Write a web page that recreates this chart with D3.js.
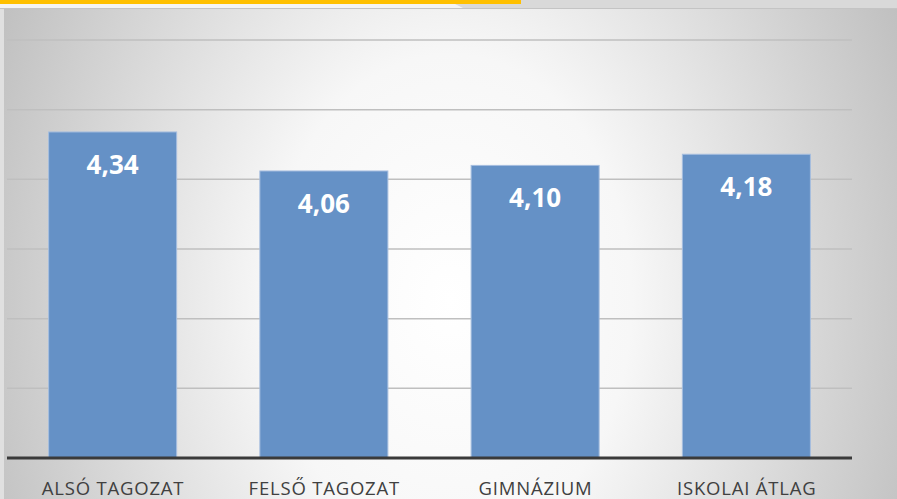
<!DOCTYPE html>
<html>
<head>
<meta charset="utf-8">
<script src="https://cdn.jsdelivr.net/npm/d3@7"></script>
<style>
  html, body { margin: 0; padding: 0; background: #ffffff; }
  #chart { width: 897px; height: 499px; }
</style>
</head>
<body>
<div id="chart"></div>
<script>
// Category labels and averages
const CATEGORIES = ['ALSÓ TAGOZAT', 'FELSŐ TAGOZAT', 'GIMNÁZIUM', 'ISKOLAI ÁTLAG'];
const VALUES = [4.34, 4.06, 4.10, 4.18];
const GRID_TICKS = [2.5, 3, 3.5, 4, 4.5, 5];
const Y_DOMAIN = [2, 5];

const WIDTH = 897;
const HEIGHT = 499;
const PLOT = { left: 7, right: 852, top: 40, bottom: 458 };

const fmt = v => v.toFixed(2).replace('.', ',');

const svg = d3.select('#chart')
  .append('svg')
  .attr('width', WIDTH)
  .attr('height', HEIGHT);

// Background: light radial gradient, grey towards the sides
const defs = svg.append('defs');
const grad = defs.append('radialGradient')
  .attr('id', 'bg')
  .attr('gradientUnits', 'userSpaceOnUse')
  .attr('cx', 450).attr('cy', 300).attr('r', 520)
  .attr('gradientTransform', 'translate(450,300) scale(1,1.35) translate(-450,-300)');
grad.append('stop').attr('offset', 0).attr('stop-color', '#ffffff');
grad.append('stop').attr('offset', 0.35).attr('stop-color', '#f7f7f7');
grad.append('stop').attr('offset', 1).attr('stop-color', '#bcbcbc');

svg.append('rect')
  .attr('x', 0).attr('y', 8)
  .attr('width', WIDTH).attr('height', HEIGHT - 8)
  .attr('fill', 'url(#bg)');

// Slide header strip
svg.append('rect')
  .attr('x', 0).attr('y', 0)
  .attr('width', WIDTH).attr('height', 8)
  .attr('fill', '#d9d9d9');
svg.append('line')
  .attr('x1', 0).attr('x2', WIDTH)
  .attr('y1', 8.5).attr('y2', 8.5)
  .attr('stroke', '#c4c4c4');
svg.append('path')
  .attr('d', 'M0,4 L455,4 L463,8 L0,8 Z')
  .attr('fill', '#f4f4f4');
svg.append('rect')
  .attr('x', 0).attr('y', 0)
  .attr('width', 521).attr('height', 4)
  .attr('fill', '#ffc000');
svg.append('rect')
  .attr('x', 0).attr('y', 9)
  .attr('width', 4).attr('height', HEIGHT - 9)
  .attr('fill', '#e0e0e0');

// Scales
const x = d3.scaleBand()
  .domain(CATEGORIES)
  .range([PLOT.left, PLOT.right])
  .paddingInner(0.394)
  .paddingOuter(0.197);

const y = d3.scaleLinear()
  .domain(Y_DOMAIN)
  .range([PLOT.bottom, PLOT.top]);

const g = svg.append('g');

// Gridlines
g.append('g')
  .selectAll('line')
  .data(GRID_TICKS)
  .join('line')
  .attr('x1', PLOT.left).attr('x2', PLOT.right)
  .attr('y1', d => y(d)).attr('y2', d => y(d))
  .attr('stroke', '#bfbfbf')
  .attr('stroke-width', 1.5);

// Bars
const data = CATEGORIES.map((c, i) => ({ cat: c, value: VALUES[i] }));

g.append('g')
  .selectAll('rect')
  .data(data)
  .join('rect')
  .attr('x', d => x(d.cat))
  .attr('y', d => y(d.value))
  .attr('width', x.bandwidth())
  .attr('height', d => y(Y_DOMAIN[0]) - y(d.value))
  .attr('fill', '#6591c6')
  .attr('stroke', '#a6bedf')
  .attr('stroke-width', 1);

// Value labels inside the bars
g.append('g')
  .selectAll('text')
  .data(data)
  .join('text')
  .attr('x', d => x(d.cat) + x.bandwidth() / 2)
  .attr('y', d => y(d.value) + 42)
  .attr('text-anchor', 'middle')
  .style('font-family', '"Open Sans", sans-serif')
  .style('font-size', '26px')
  .style('font-weight', '700')
  .style('fill', '#ffffff')
  .text(d => fmt(d.value));

// Category axis
const xAxis = g.append('g')
  .attr('transform', `translate(0,${PLOT.bottom})`)
  .call(d3.axisBottom(x).tickSize(0).tickPadding(0));
xAxis.select('.domain')
  .attr('d', `M${PLOT.left},0H${PLOT.right}`)
  .attr('stroke', '#3a3a3a')
  .attr('stroke-width', 3);
xAxis.selectAll('text')
  .attr('y', 37)
  .attr('dy', 0)
  .attr('dx', '0.4px')
  .style('font-family', '"Open Sans", sans-serif')
  .style('font-size', '18.5px')
  .style('letter-spacing', '0.8px')
  .style('fill', '#404040');
</script>
</body>
</html>
